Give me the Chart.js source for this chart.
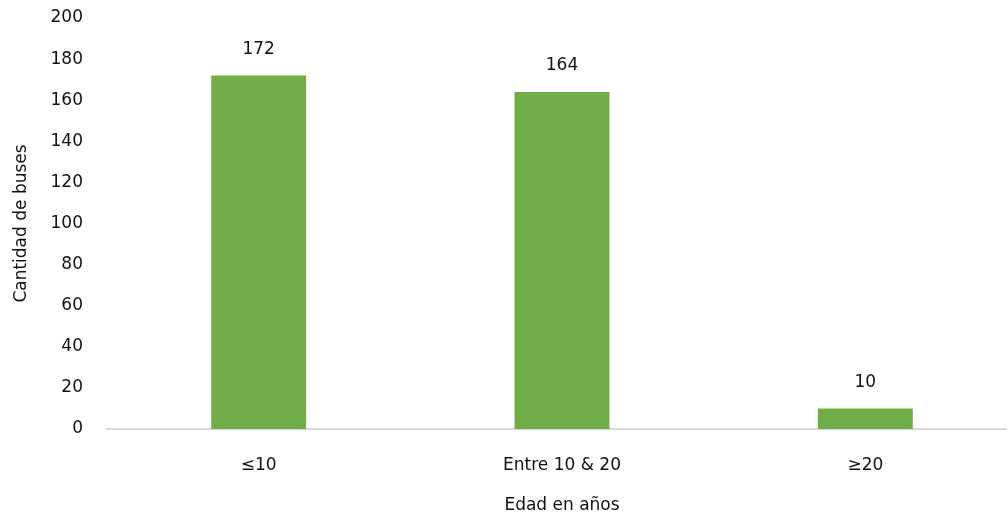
<!DOCTYPE html>
<html>
<head>
<meta charset="utf-8">
<script src="https://cdn.jsdelivr.net/npm/chart.js@4/dist/chart.umd.min.js"></script>
<style>
  html, body { margin:0; padding:0; background:#fff; overflow:hidden; }
  #wrap { width:1017px; height:516px; }
</style>
</head>
<body>
<div id="wrap"><canvas id="chart" width="1017" height="516"></canvas></div>
<script>
// Data
const categories = ['≤10', 'Entre 10 & 20', '≥20'];
const buses = [172, 164, 10];
const yTicks = [0, 20, 40, 60, 80, 100, 120, 140, 160, 180, 200];

const fontFamily = '"DejaVu Sans", sans-serif';
const fontSize = 17;
const textColor = '#111';

// value labels above bars
const barLabels = {
  id: 'barLabels',
  afterDatasetsDraw(chart){
    const ctx = chart.ctx;
    const meta = chart.getDatasetMeta(0);
    ctx.save();
    ctx.font = fontSize + 'px ' + fontFamily;
    ctx.fillStyle = textColor;
    ctx.textAlign = 'center';
    ctx.textBaseline = 'middle';
    meta.data.forEach((bar, i) => {
      ctx.fillText(String(buses[i]), bar.x, bar.y - 26);
    });
    ctx.restore();
  }
};

new Chart(document.getElementById('chart').getContext('2d'), {
  type: 'bar',
  data: {
    labels: categories,
    datasets: [{
      data: buses,
      backgroundColor: '#70ad47',
      barPercentage: 0.313,
      categoryPercentage: 1
    }]
  },
  options: {
    responsive: false,
    animation: false,
    layout: { padding: { top: 18, left: 0, right: 0, bottom: 0 } },
    plugins: { legend: { display: false }, tooltip: { enabled: false } },
    scales: {
      x: {
        grid: { display: false, drawTicks: false },
        border: { display: true, color: '#d9d9d9', width: 2 },
        ticks: { color: textColor, font: { family: fontFamily, size: fontSize }, padding: 26 },
        title: { display: true, text: 'Edad en años', color: textColor,
                 font: { family: fontFamily, size: fontSize }, padding: { top: 8, bottom: 0 } },
        afterFit(scale){ scale.height = 87; }
      },
      y: {
        min: 0, max: 200,
        afterBuildTicks(scale){ scale.ticks = yTicks.map(v => ({ value: v })); },
        grid: { display: false, drawTicks: false },
        border: { display: false },
        ticks: { color: textColor, font: { family: fontFamily, size: fontSize }, padding: 24 },
        title: { display: true, text: 'Cantidad de buses', color: textColor,
                 font: { family: fontFamily, size: fontSize }, padding: { top: 11, bottom: 0 } },
        afterFit(scale){ scale.width = 107; scale.paddingTop = 0; scale.paddingBottom = 0; }
      }
    }
  },
  plugins: [barLabels]
});
</script>
</body>
</html>
